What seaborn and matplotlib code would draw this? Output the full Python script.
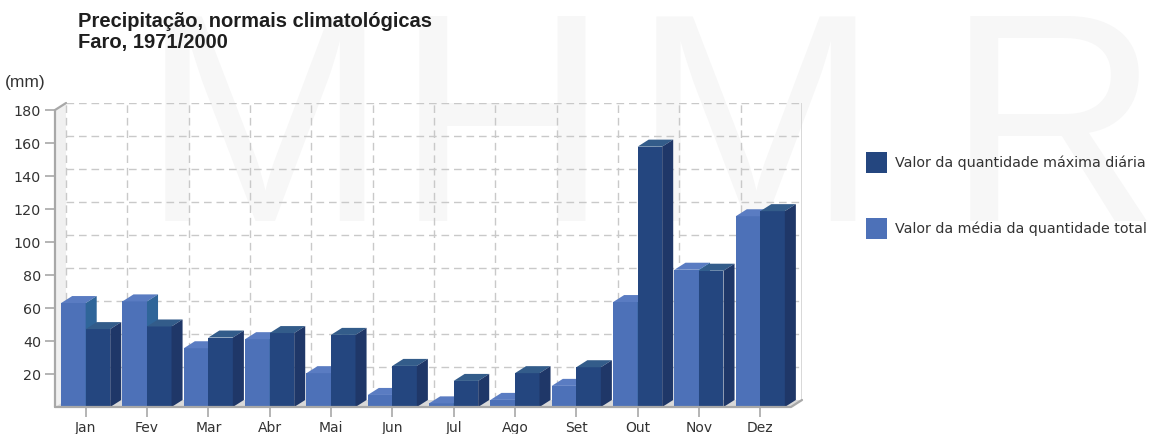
import numpy as np
import pandas as pd
import matplotlib
matplotlib.use("Agg")
import matplotlib.pyplot as plt
from matplotlib.patches import Polygon, Patch
import seaborn as sns

# Monthly precipitation normals, Faro 1971/2000 (mm)
months = ["Jan", "Fev", "Mar", "Abr", "Mai", "Jun", "Jul", "Ago", "Set", "Out", "Nov", "Dez"]
media_total = [63.0, 64.0, 35.6, 41.1, 20.5, 7.3, 2.2, 4.3, 12.8, 63.6, 83.2, 115.6]
maxima_diaria = [47.2, 48.8, 42.1, 44.8, 43.7, 24.9, 15.8, 20.5, 24.1, 157.8, 82.6, 118.7]
name_max = "Valor da quantidade máxima diária"
name_media = "Valor da média da quantidade total"
y_ticks = [20, 40, 60, 80, 100, 120, 140, 160, 180]
y_top = 180

# colours: front, top, side
LIGHT = ("#4d71b8", "#5a7cc2", "#2f6599")
DARK = ("#24467f", "#335c8a", "#1f3768")

W, H = 1157, 434
DX, DY = 0.18, 4.25  # depth offset of the pseudo-3D box, in data units

df = pd.DataFrame({
    "mes": months * 2,
    "valor": media_total + maxima_diaria,
    "serie": [name_media] * len(months) + [name_max] * len(months),
})

sns.set_theme(style="white")
plt.rcParams["font.family"] = ["DejaVu Sans"]

fig = plt.figure(figsize=(W / 100, H / 100), dpi=100)
fig.patch.set_facecolor("white")

# faint background watermark, one letter at a time
for letter, lx in zip("MHMR", [141, 395, 632, 946]):
    fig.text(lx / W, 1 - 221 / H, letter, fontsize=214, color="#f7f7f7",
             family="Liberation Sans", va="baseline", ha="left", zorder=-5)

ax_left, ax_right, ax_bottom, ax_top = 55, 802, 407, 103
ax = fig.add_axes([ax_left / W, 1 - ax_bottom / H, (ax_right - ax_left) / W, (ax_bottom - ax_top) / H])
ax.set_facecolor("none")

sns.barplot(data=df, x="mes", y="valor", hue="serie", hue_order=[name_media, name_max],
            palette=[LIGHT[0], DARK[0]], saturation=1, width=0.8, linewidth=0,
            legend=False, ax=ax)

ax.set_xlim(-0.5, len(months) - 0.5 + DX)
ax.set_ylim(0, y_top + DY)

# give every bar a top and a side face
light_rgb = matplotlib.colors.to_rgb(LIGHT[0])
for p in list(ax.patches):
    x, w, h = p.get_x(), p.get_width(), p.get_height()
    is_light = np.allclose(p.get_facecolor()[:3], light_rgb, atol=0.01)
    front, top, side = LIGHT if is_light else DARK
    z = 3 if is_light else 4
    p.set_zorder(z)
    ax.add_patch(Polygon([(x, h), (x + w, h), (x + w + DX, h + DY), (x + DX, h + DY)],
                         closed=True, facecolor=top, edgecolor="none", zorder=z))
    ax.add_patch(Polygon([(x + w, 0), (x + w, h), (x + w + DX, h + DY), (x + w + DX, DY)],
                         closed=True, facecolor=side, edgecolor="none", zorder=z))

x0, x1 = -0.5, len(months) - 0.5
# left wall and floor
ax.add_patch(Polygon([(x0, 0), (x0, y_top), (x0 + DX, y_top + DY), (x0 + DX, DY)],
                     closed=True, facecolor="#f0f0f0", edgecolor="none", zorder=1))
ax.add_patch(Polygon([(x0, 0), (x1, 0), (x1 + DX, DY), (x0 + DX, DY)],
                     closed=True, facecolor="#d9d9d9", edgecolor="none", zorder=1))

# dashed grid on the back wall
dash = (0, (5.5, 3.5))
ax.hlines([t + DY for t in y_ticks], x0 + DX, x1 + DX, colors="#c9c9c9",
          linestyles=dash, linewidth=1, zorder=1.5)
ax.vlines(np.arange(len(months)) - 0.5 + DX, DY, y_top + DY, colors="#c9c9c9",
          linestyles=dash, linewidth=1, zorder=1.5)
ax.vlines([x1 + DX], DY, y_top + DY, colors="#d2d2d2", linewidth=1.2, zorder=1.5)

# front axis lines
axis_col = "#a8a8a8"
ax.plot([x0 + DX, x0, x0], [y_top + DY, y_top, 0], color=axis_col, lw=1.6, zorder=5,
        clip_on=False, solid_joinstyle="miter")
ax.plot([x0, x1, x1 + DX], [0, 0, DY], color=axis_col, lw=1.6, zorder=5, clip_on=False)

for s in ax.spines.values():
    s.set_visible(False)

ax.set_yticks(y_ticks)
ax.set_yticklabels([str(t) for t in y_ticks])
ax.tick_params(axis="y", direction="out", length=7, width=1.2, color=axis_col, pad=3,
               labelsize=10.3, labelcolor="#333333", left=True)
ax.tick_params(axis="x", direction="out", length=7, width=1.2, color=axis_col, pad=3,
               labelsize=10, labelcolor="#333333", bottom=True)
ax.set_xlabel("")
ax.set_ylabel("")
ax.grid(False)

# titles
fig.text(78 / W, 1 - 26.7 / H, "Precipitação, normais climatológicas", fontsize=14.5,
         fontweight="bold", family="Liberation Sans", color="#1e1e1e", va="baseline")
fig.text(78 / W, 1 - 47.7 / H, "Faro, 1971/2000", fontsize=14.5,
         fontweight="bold", family="Liberation Sans", color="#1e1e1e", va="baseline")
fig.text(5 / W, 1 - 82 / H, "(mm)", fontsize=12.5, family="Liberation Sans",
         color="#333333", va="center", ha="left")

# legend
handles = [Patch(facecolor=DARK[0], edgecolor="none"), Patch(facecolor=LIGHT[0], edgecolor="none")]
ax.legend(handles, [name_max, name_media], loc="upper left",
          bbox_to_anchor=(866 / W, 1 - 152 / H), bbox_transform=fig.transFigure,
          frameon=False, fontsize=10.3, handlelength=1.47, handleheight=1.88,
          labelspacing=3.15, handletextpad=0.56, borderaxespad=0, borderpad=0,
          labelcolor="#333333")

fig.savefig("out.png", dpi=100, facecolor="white")
